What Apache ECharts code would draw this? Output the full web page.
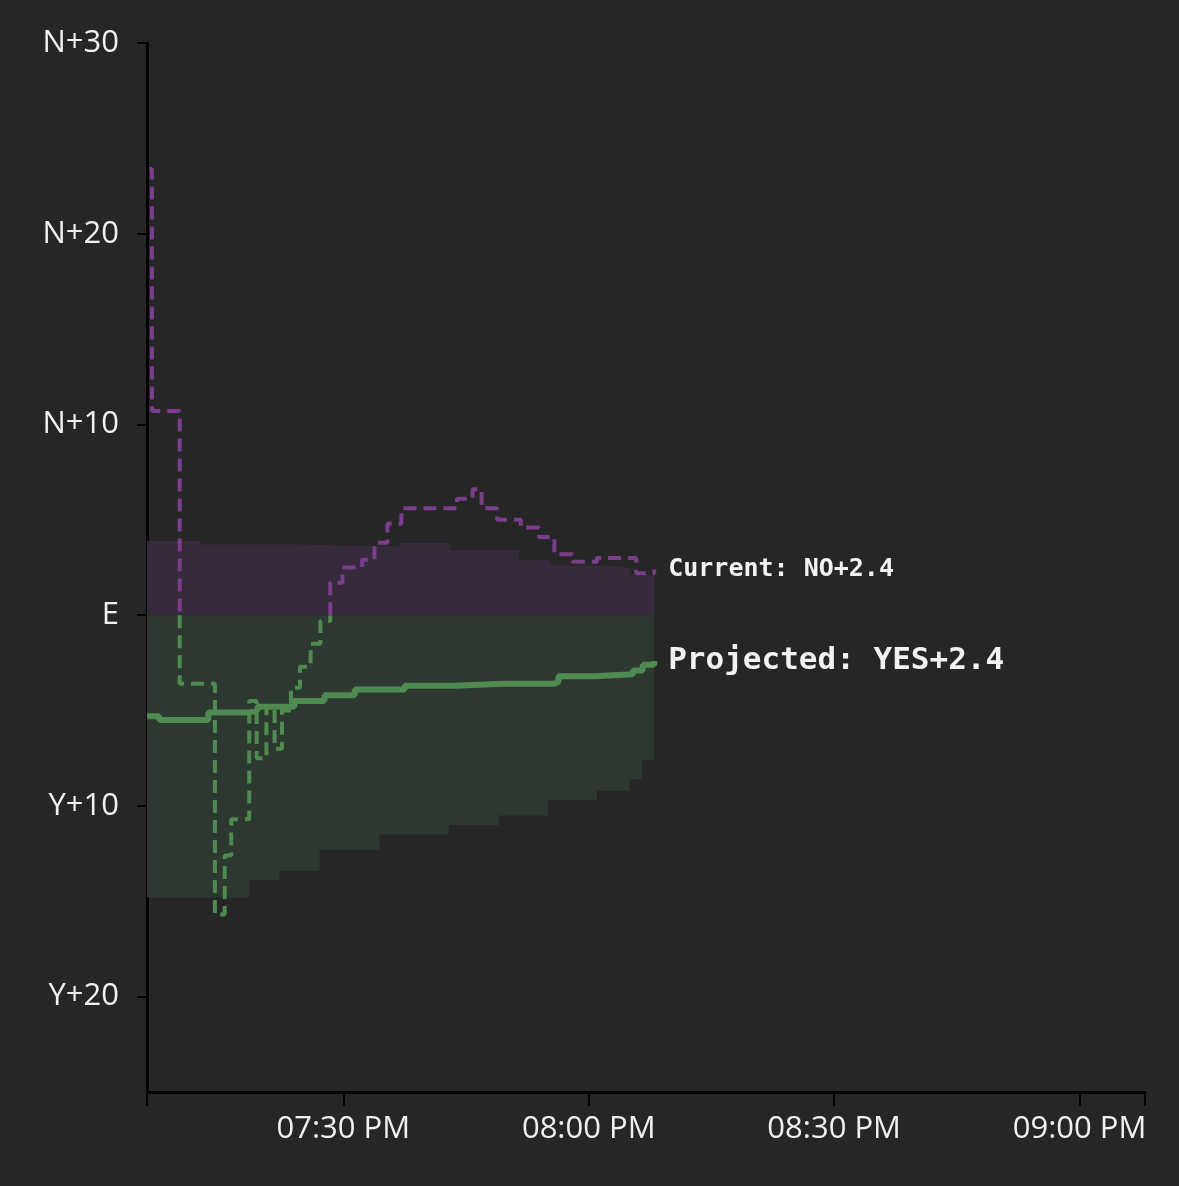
<!DOCTYPE html>
<html>
<head>
<meta charset="utf-8">
<script src="https://cdn.jsdelivr.net/npm/echarts@6/dist/echarts.min.js"></script>
<style>
  html, body { margin: 0; padding: 0; background: #262626; }
  #chart { width: 1179px; height: 1186px; }
</style>
</head>
<body>
<div id="chart"></div>
<script>
// minutes after 7:00 PM, values: positive = NO side, negative = YES side
var currentPts = [[6.3, 23.4], [6.6, 10.7], [10.0, -3.6], [14.3, -15.7], [15.5, -12.6], [16.3, -10.7],
  [18.5, -4.5], [19.4, -7.5], [20.6, -4.8], [21.6, -7.0], [22.5, -5.0], [23.6, -3.8], [24.7, -2.7],
  [26.0, -1.5], [27.2, -0.3], [28.4, 1.7], [29.9, 2.5], [32.3, 2.9], [33.8, 3.8], [35.4, 4.8],
  [37.1, 5.6], [41.7, 5.6], [43.9, 6.1], [45.8, 6.6], [46.9, 5.6], [48.8, 5.0], [51.7, 4.6],
  [53.9, 4.1], [55.8, 3.2], [58.0, 2.8], [61.0, 3.0], [63.9, 3.0], [65.8, 2.2], [68.0, 2.4]];
var projectedPts = [[6, -5.3], [7.5, -5.5], [13.5, -5.1], [18.5, -5.0], [19.5, -4.8], [24, -4.5],
  [27.7, -4.2], [31.4, -3.9], [37.5, -3.7], [43.6, -3.6], [49.7, -3.6], [55.7, -3.5], [56.3, -3.2],
  [60.6, -3.1], [65.4, -2.9], [66.6, -2.6], [68, -2.4]];
var upperBand = [[6, 3.9], [12.5, 3.7], [24.7, 3.6], [36.9, 3.8], [43, 3.4], [51.5, 2.9],
  [55.3, 2.6], [61.4, 2.5], [65, 2.1], [68, 1.8]];
var lowerBand = [[6, -14.8], [16, -14.8], [18.5, -13.9], [22.2, -13.4], [27.1, -12.3], [34.4, -11.5],
  [42.9, -11.0], [49, -10.5], [55, -9.7], [61, -9.2], [65, -8.6], [66.5, -7.6], [68, -7.6]];
var yTicks = [30, 20, 10, 0, -10, -20];
var xLabelTicks = [30, 60, 90, 120];
var xTicks = [6, 30, 60, 90, 120, 128];

var PURPLE = '#7b3e8b', GREEN = '#4f8a50';

var fmtY = function (v) {
  if (v === 0) return 'E';
  return (v > 0 ? 'N+' : 'Y+') + Math.abs(v);
};
var fmtX = function (m) {
  var h = 7 + Math.floor(m / 60);
  var mm = m % 60;
  return '0' + h + ':' + (mm < 10 ? '0' : '') + mm + ' PM';
};

// split the stepped current line where it crosses even, so each side gets its colour
var splitBySign = function (pts) {
  var segs = [];
  var cur = [pts[0]];
  for (var i = 1; i < pts.length; i++) {
    var prev = pts[i - 1], p = pts[i];
    if ((prev[1] >= 0) !== (p[1] >= 0)) {
      cur.push([p[0], prev[1]], [p[0], 0]);
      segs.push({ pos: prev[1] >= 0, data: cur });
      cur = [[p[0], 0], p];
    } else {
      cur.push(p);
    }
  }
  segs.push({ pos: pts[pts.length - 1][1] >= 0, data: cur });
  return segs;
};

var series = [
  {
    type: 'line', step: 'end', data: upperBand, symbol: 'none',
    lineStyle: { width: 0 }, areaStyle: { color: '#372a3c', opacity: 1 }
  },
  {
    type: 'line', step: 'end', data: lowerBand, symbol: 'none',
    lineStyle: { width: 0 }, areaStyle: { color: '#2d3830', opacity: 1 }
  },
  {
    type: 'line', step: 'end', data: projectedPts, symbol: 'none', z: 3,
    lineStyle: { width: 6, color: GREEN },
    endLabel: {
      show: true, distance: 14, color: '#f2f2f2', fontSize: 31, fontWeight: 'bold',
      fontFamily: 'DejaVu Sans Mono',
      formatter: function (p) { return 'Projected: YES+' + Math.abs(p.value[1]).toFixed(1); }
    }
  }
];
var segs = splitBySign(currentPts);
segs.forEach(function (s, i) {
  var last = i === segs.length - 1;
  series.push({
    type: 'line', step: 'end', data: s.data, symbol: 'none', z: 4,
    lineStyle: { width: 4, type: [13, 7], color: s.pos ? PURPLE : GREEN },
    endLabel: {
      show: last, distance: 14, color: '#f2f2f2', fontSize: 25, fontWeight: 'bold',
      fontFamily: 'DejaVu Sans Mono',
      formatter: function (p) {
        var v = p.value[1];
        return 'Current: ' + (v >= 0 ? 'NO+' : 'YES+') + Math.abs(v).toFixed(1);
      }
    }
  });
});

var chart = echarts.init(document.getElementById('chart'));
var axisTxt = { color: '#f0f0f0', fontSize: 31, fontFamily: 'Open Sans' };
chart.setOption({
  backgroundColor: '#262626',
  animation: false,
  grid: { left: 147, right: 34, top: 43, bottom: 94 },
  xAxis: {
    type: 'value', min: 6, max: 128,
    axisLine: { show: true, onZero: false, lineStyle: { color: '#000', width: 3 } },
    axisTick: { show: true, customValues: xTicks, length: 14, lineStyle: { color: '#000', width: 2 } },
    axisLabel: Object.assign({ customValues: xLabelTicks, formatter: fmtX, margin: 22 }, axisTxt),
    splitLine: { show: false }
  },
  yAxis: {
    type: 'value', min: -25, max: 30,
    axisLine: { show: true, onZero: false, lineStyle: { color: '#000', width: 3 } },
    axisTick: { show: true, customValues: yTicks, length: 10, lineStyle: { color: '#000', width: 2 } },
    axisLabel: Object.assign({ customValues: yTicks, formatter: fmtY, margin: 28 }, axisTxt),
    splitLine: { show: false }
  },
  series: series
});
</script>
</body>
</html>
